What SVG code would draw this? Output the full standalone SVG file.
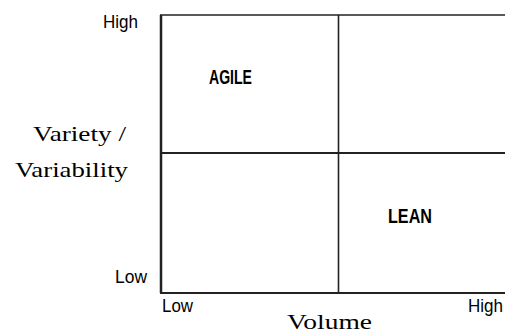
<svg xmlns="http://www.w3.org/2000/svg" width="505" height="333" viewBox="0 0 505 333">
<style>
.ax{font-family:"Liberation Sans",Arial,sans-serif;font-size:18px;fill:#000}
.q{font-family:"Liberation Sans",Arial,sans-serif;font-size:21px;font-weight:bold;fill:#000}
.t{font-family:"Liberation Serif","Times New Roman",serif;font-size:22px;fill:#000}
.ln{stroke:#222;fill:none}
</style>
<rect width="505" height="333" fill="#fff"/>
<g id="connectors">
<line class="ln" x1="161" y1="15" x2="161" y2="293" stroke-width="2.5"/>
<line class="ln" x1="160" y1="15" x2="505" y2="15" stroke-width="1.6"/>
<line class="ln" x1="160" y1="153" x2="505" y2="153" stroke-width="2"/>
<line class="ln" x1="338.5" y1="15" x2="338.5" y2="293" stroke-width="1.6"/>
<line class="ln" x1="160" y1="293" x2="505" y2="293" stroke-width="2"/>
</g>
<g id="agile"><text class="q" x="209" y="84" textLength="43" lengthAdjust="spacingAndGlyphs">AGILE</text></g>
<g id="lean"><text class="q" x="388" y="223" textLength="44" lengthAdjust="spacingAndGlyphs">LEAN</text></g>
<g id="y-axis">
<text class="ax" x="103" y="28" textLength="35" lengthAdjust="spacingAndGlyphs">High</text>
<text class="ax" x="115" y="283" textLength="32" lengthAdjust="spacingAndGlyphs">Low</text>
<text class="t" x="33" y="141" textLength="93" lengthAdjust="spacingAndGlyphs">Variety /</text>
<text class="t" x="15" y="177" textLength="113" lengthAdjust="spacingAndGlyphs">Variability</text>
</g>
<g id="x-axis">
<text class="ax" x="162" y="312" textLength="31" lengthAdjust="spacingAndGlyphs">Low</text>
<text class="ax" x="468" y="312" textLength="35" lengthAdjust="spacingAndGlyphs">High</text>
<text class="t" x="287" y="329" textLength="85" lengthAdjust="spacingAndGlyphs">Volume</text>
</g>
</svg>
